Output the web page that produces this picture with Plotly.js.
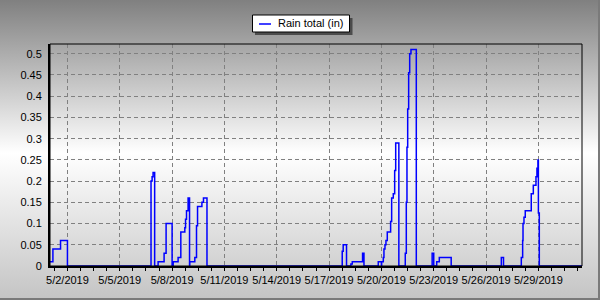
<!DOCTYPE html>
<html>
<head>
<meta charset="utf-8">
<script src="https://cdn.plot.ly/plotly-3.0.1.min.js"></script>
<style>
html,body{margin:0;padding:0;}
#wrap{position:relative;width:600px;height:300px;}
#chart{width:600px;height:300px;background:linear-gradient(to bottom,#808080 0%,#ffffff 51%,#c4c4c4 100%);}
#frame{position:absolute;left:0;top:0;width:598px;height:298px;border-right:2px solid #7a7a7a;border-bottom:2px solid #7a7a7a;pointer-events:none;}
</style>
</head>
<body>
<div id="wrap"><div id="chart"></div><div id="frame"></div></div>
<script>
const seriesName = 'Rain total (in)';
const times = [
 '2019-05-01 00:00','2019-05-01 04:00','2019-05-01 14:30','2019-05-02 00:00',
 '2019-05-06 19:00','2019-05-06 20:30','2019-05-06 21:50','2019-05-07 00:00',
 '2019-05-07 04:45','2019-05-07 13:00','2019-05-07 15:45','2019-05-08 00:00',
 '2019-05-08 01:30','2019-05-08 08:15','2019-05-08 12:00','2019-05-08 17:30',
 '2019-05-08 18:30','2019-05-08 19:50','2019-05-08 22:00','2019-05-09 00:00',
 '2019-05-09 00:20','2019-05-09 07:15','2019-05-09 09:35','2019-05-09 11:00',
 '2019-05-09 17:00','2019-05-09 19:10','2019-05-10 00:00',
 '2019-05-17 18:05','2019-05-17 19:25','2019-05-18 00:00',
 '2019-05-18 06:00','2019-05-18 07:55','2019-05-18 22:05','2019-05-19 00:00',
 '2019-05-19 19:40','2019-05-20 00:00',
 '2019-05-20 00:20','2019-05-20 02:35','2019-05-20 03:30','2019-05-20 04:55',
 '2019-05-20 06:15','2019-05-20 08:05','2019-05-20 12:40','2019-05-20 14:05',
 '2019-05-20 16:20','2019-05-20 18:15','2019-05-20 19:40','2019-05-21 00:00',
 '2019-05-21 08:50','2019-05-21 10:15','2019-05-21 11:10','2019-05-21 12:10',
 '2019-05-21 13:30','2019-05-21 14:55','2019-05-21 16:40','2019-05-22 00:00',
 '2019-05-22 21:50','2019-05-23 00:00',
 '2019-05-23 04:05','2019-05-23 07:40','2019-05-24 00:00',
 '2019-05-26 21:00','2019-05-27 00:00',
 '2019-05-28 00:30','2019-05-28 02:20','2019-05-28 02:50','2019-05-28 04:10',
 '2019-05-28 05:55','2019-05-28 14:10','2019-05-28 17:00','2019-05-28 20:40',
 '2019-05-28 22:00','2019-05-28 23:20','2019-05-29 00:00','2019-05-29 01:15',
 '2019-05-31 12:00'
];
const rain = [
 0.01,0.04,0.06,0,
 0.20,0.21,0.22,0,
 0.01,0.03,0.10,0,
 0.01,0.02,0.08,0.09,
 0.11,0.13,0.16,0,
 0.01,0.02,0.095,0.14,
 0.15,0.16,0,
 0.035,0.05,0,
 0.005,0.01,0.03,0,
 0.01,0,
 0.01,0.02,0.04,0.05,
 0.06,0.08,0.105,0.16,
 0.17,0.225,0.29,0,
 0.03,0.15,0.28,0.37,
 0.455,0.50,0.51,0,
 0.03,0,
 0.01,0.02,0,
 0.02,0,
 0.02,0.06,0.10,0.115,
 0.13,0.17,0.19,0.21,
 0.23,0.25,0.125,0,
 0
];
const xRange = ['2019-05-01 00:00','2019-05-31 12:00'];
const yRange = [0, 0.523];

const font = {family:'"Liberation Sans", Arial, sans-serif', size:11, color:'#000'};

// pixel helpers for the legend box (plot area: l=50, t=44, w=532, h=222)
const px = v => (v-50)/532;
const py = v => (266-v)/222;

const trace = {
  x: times, y: rain, type:'scatter', mode:'lines', name: seriesName,
  line:{color:'#0000ff', width:1.5, shape:'hv'}, showlegend:false, hoverinfo:'skip'
};

const layout = {
  width:600, height:300,
  margin:{l:50, r:18, t:44, b:34, pad:0},
  paper_bgcolor:'rgba(0,0,0,0)', plot_bgcolor:'rgba(0,0,0,0)',
  font: font,
  xaxis:{
    type:'date', range:xRange, tick0:'2019-05-02', dtick:3*86400000,
    tickformat:'%-m/%-d/%Y', showgrid:true, gridcolor:'#808080', gridwidth:1, griddash:'4px,3px',
    showline:true, linecolor:'#000', linewidth:2, zeroline:false,
    ticks:'outside', ticklen:3, tickcolor:'#000', tickwidth:1,
    minor:{dtick:18*3600000, tick0:'2019-05-02', ticks:'outside', ticklen:3, tickcolor:'#000', showgrid:false},
    tickfont:font, fixedrange:true
  },
  yaxis:{
    range:yRange, dtick:0.05, tick0:0, showgrid:true, gridcolor:'#808080', gridwidth:1, griddash:'4px,3px',
    showline:true, linecolor:'#000', linewidth:2, zeroline:false,
    ticks:'', ticklabelstandoff:4, tickfont:font, fixedrange:true
  },
  shapes:[
    {type:'rect', xref:'paper', yref:'paper', x0:0, x1:1, y0:0, y1:1, line:{color:'#000', width:1}, layer:'above'},
    {type:'rect', xref:'paper', yref:'paper', x0:px(255), x1:px(352.5), y0:py(35), y1:py(18), fillcolor:'rgba(50,50,50,0.75)', line:{width:0}, layer:'above'},
    {type:'rect', xref:'paper', yref:'paper', x0:px(252.5), x1:px(349.5), y0:py(32), y1:py(15), fillcolor:'#ffffff', line:{color:'#000', width:1}, layer:'above'},
    {type:'line', xref:'paper', yref:'paper', x0:px(259), x1:px(271), y0:py(24), y1:py(24), line:{color:'#0000ff', width:1.5}, layer:'above'}
  ],
  annotations:[
    {xref:'paper', yref:'paper', x:px(276), y:py(23.5), xanchor:'left', yanchor:'middle', text:seriesName, showarrow:false, font:{family:font.family, size:11, color:'#000'}}
  ]
};

Plotly.newPlot('chart', [trace], layout, {displayModeBar:false, staticPlot:true});
</script>
</body>
</html>
